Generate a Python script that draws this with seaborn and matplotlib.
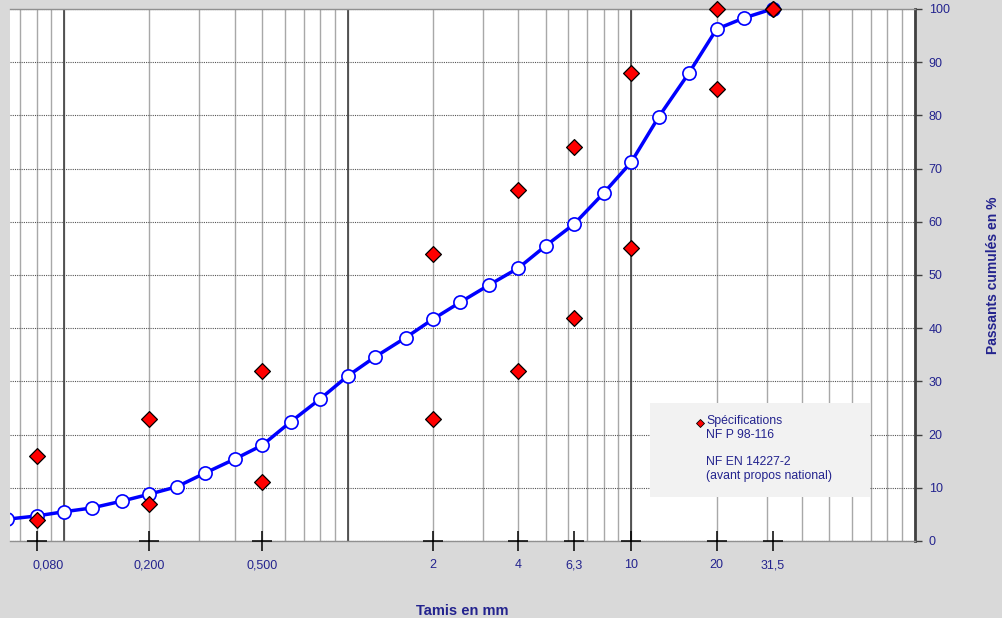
import numpy as np
import pandas as pd
import matplotlib
matplotlib.use("Agg")
import matplotlib.pyplot as plt
import matplotlib.transforms as mtransforms
import seaborn as sns
from matplotlib.patches import Rectangle
from matplotlib.ticker import LogLocator, FixedLocator, NullFormatter

# Tamis (mm) et passants cumulés (%) de la courbe granulométrique
tamis = [0.063, 0.08, 0.1, 0.125, 0.16, 0.2, 0.25, 0.315, 0.4, 0.5, 0.63, 0.8,
         1, 1.25, 1.6, 2, 2.5, 3.15, 4, 5, 6.3, 8, 10, 12.5, 16, 20, 25, 31.5]
passants = [4.1, 4.7, 5.5, 6.2, 7.5, 8.8, 10.2, 12.8, 15.4, 18.0, 22.4, 26.7,
            31.0, 34.6, 38.2, 41.7, 44.9, 48.1, 51.3, 55.5, 59.6, 65.4, 71.2,
            79.7, 88.0, 96.2, 98.3, 100]

# Fuseau de spécifications (bornes min / max)
spec_tamis = [0.08, 0.08, 0.2, 0.2, 0.5, 0.5, 2, 2, 4, 4, 6.3, 6.3, 10, 10,
              20, 20, 31.5, 31.5]
spec_val = [16, 4, 23, 7, 32, 11, 54, 23, 66, 32, 74, 42, 88, 55,
            100, 85, 100, 100]

ticks_x = [0.08, 0.2, 0.5, 2, 4, 6.3, 10, 20, 31.5]
ticks_lbl = ["0,080", "0,200", "0,500", "2", "4", "6,3", "10", "20", "31,5"]

navy = "#23238e"

sns.set_style("white")
plt.rcParams["font.family"] = ["Liberation Sans", "DejaVu Sans"]

fig = plt.figure(figsize=(10.02, 6.18), dpi=100, facecolor="#d9d9d9")
ax = fig.add_axes([0.010, 0.1246, 0.903, 0.861])
ax.set_facecolor("white")

df = pd.DataFrame({"tamis": tamis, "passants": passants})
df_spec = pd.DataFrame({"tamis": spec_tamis, "val": spec_val})

sns.lineplot(data=df, x="tamis", y="passants", ax=ax, color="#0000ff",
             linewidth=2.5, marker="o", markersize=9.5,
             markerfacecolor="white", markeredgecolor="#0000ff",
             markeredgewidth=1.2, zorder=4)
sns.scatterplot(data=df_spec, x="tamis", y="val", ax=ax, marker="D",
                s=65, color="#ff0000", edgecolor="black", linewidth=0.9,
                zorder=5)

# clip à gauche seulement, les marqueurs à 100 % débordent en haut
clip = Rectangle((0, -0.1), 1.2, 1.2, transform=ax.transAxes)
for art in ax.lines + list(ax.collections):
    art.set_clip_path(clip)

# repères "+" sur l'axe des tamis
ax.plot(ticks_x, [0] * len(ticks_x), linestyle="none", marker="+",
        markersize=14, markeredgewidth=1.1, color="black", clip_on=False,
        zorder=6)

ax.set_xscale("log")
ax.set_xlim(0.0645, 100)
ax.set_ylim(0, 100)

# grille verticale logarithmique
ax.xaxis.set_major_locator(FixedLocator(ticks_x))
ax.set_xticklabels(ticks_lbl)
ax.xaxis.set_minor_locator(LogLocator(base=10, subs=np.arange(1, 10)))
ax.xaxis.set_minor_formatter(NullFormatter())
ax.xaxis.remove_overlapping_locs = False
ax.grid(True, which="minor", axis="x", color="#a8a8a8", linewidth=1.0, zorder=0)
for d in [0.1, 1, 10]:
    ax.axvline(d, color="#404040", linewidth=1.2, zorder=1)

# grille horizontale pointillée
ax.set_yticks(np.arange(0, 101, 10))
ax.grid(True, which="major", axis="y", color="#555555", linewidth=0.8,
        linestyle=(0, (1, 1)), zorder=0)
ax.set_axisbelow(True)

ax.yaxis.tick_right()
ax.yaxis.set_label_position("right")
ax.tick_params(axis="x", which="major", length=0, labelcolor=navy,
               labelsize=9, pad=13)
ax.tick_params(axis="x", which="minor", length=0)
ax.tick_params(axis="y", which="major", direction="out", length=5,
               width=1, color="#404040", labelcolor=navy, labelsize=9,
               pad=5, left=False, right=True)

# le libellé 0,080 est décalé vers la droite dans l'original
first = ax.xaxis.get_major_ticks()[0].label1
first.set_transform(first.get_transform() +
                    mtransforms.ScaledTranslation(12 / 100, 0, fig.dpi_scale_trans))

for s in ["top", "bottom", "left"]:
    ax.spines[s].set_color("#909090")
    ax.spines[s].set_linewidth(1)
ax.spines["left"].set_visible(False)
ax.spines["right"].set_color("#404040")
ax.spines["right"].set_linewidth(2)

ax.set_xlabel("Tamis en mm", color=navy, fontsize=10.5, fontweight="bold",
              labelpad=24)
ax.set_ylabel("Passants cumulés en %", color=navy, fontsize=10,
              fontweight="bold", labelpad=26)

# cartouche de légende
leg_ax = fig.add_axes([650 / 1002, 1 - 497 / 618, 220 / 1002, 94 / 618])
leg_ax.set_facecolor("#f2f2f2")
leg_ax.set_xlim(0, 220)
leg_ax.set_ylim(94, 0)
leg_ax.set_xticks([])
leg_ax.set_yticks([])
for s in leg_ax.spines.values():
    s.set_visible(False)
leg_ax.plot([50], [20], marker="D", markersize=4.5, color="#ff0000",
            markeredgecolor="black", markeredgewidth=0.6)
leg_txt = "Spécifications\nNF P 98-116\n\nNF EN 14227-2\n(avant propos national)"
leg_ax.text(56, 12, leg_txt, color=navy, fontsize=8.8, va="top", ha="left",
            linespacing=1.2)

fig.savefig("out.png", dpi=100, facecolor=fig.get_facecolor())
